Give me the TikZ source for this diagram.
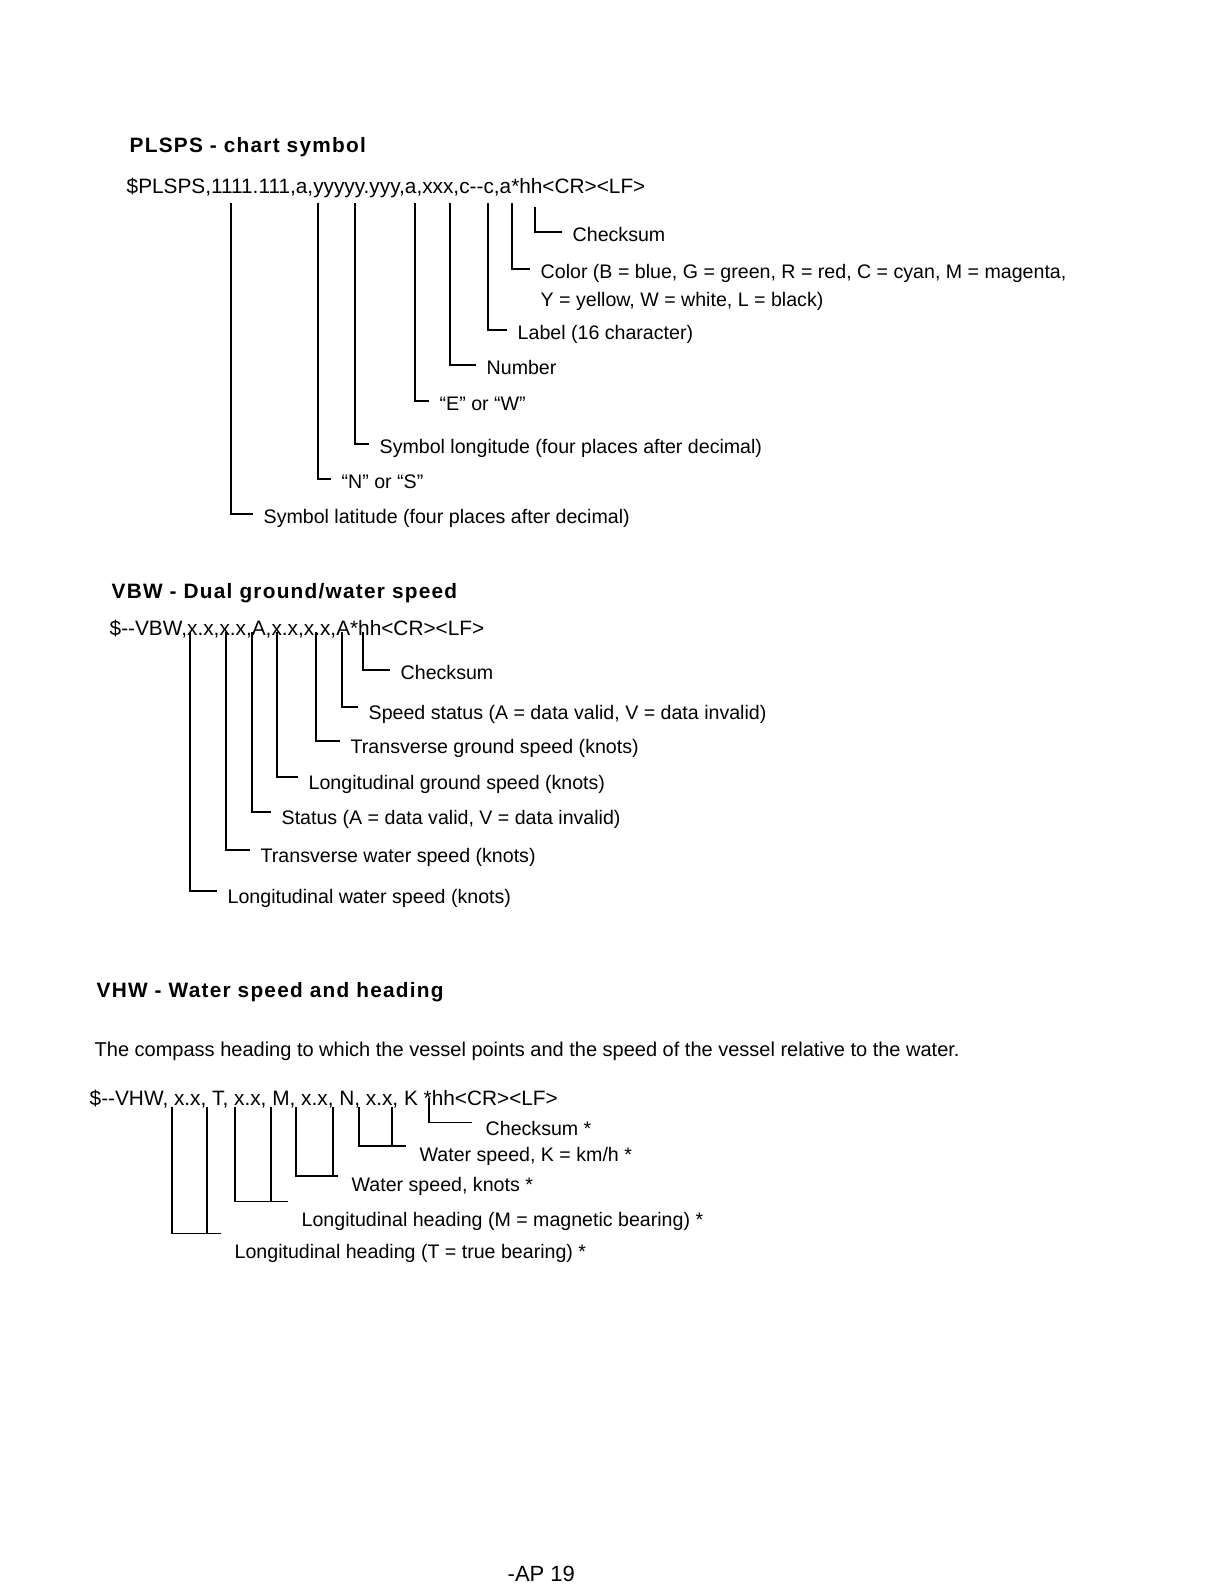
\documentclass[tikz,border=0pt]{standalone}
\usepackage{fontspec}
\setmainfont{Liberation Sans}
\newfontfamily\headfont{Liberation Sans}[LetterSpace=6]
\usetikzlibrary{positioning}
\newcommand\twodash{\mbox{-}\mbox{-}}

\begin{document}
\begin{tikzpicture}[x=0.5pt,y=-0.5pt,line width=0.7pt,
  every node/.style={font=\fontsize{9.8}{12}\selectfont},
  head/.style={anchor=base west,inner sep=0pt,font=\headfont\bfseries\fontsize{10.4}{12}\selectfont},
  sent/.style={anchor=base west,inner sep=0pt,font=\fontsize{10.4}{12}\selectfont},
  lbl/.style={anchor=west,inner xsep=5pt,inner ysep=0pt,text height=9.2pt,text depth=0pt},
  vlbl/.style={lbl,text height=12.2pt},
  hlbl/.style={anchor=base west,inner xsep=6.5pt,inner ysep=0pt,text height=7.2pt,text depth=0pt}]
\useasboundingbox[fill=white] (0,0) rectangle (1224,1584);

\node[head] (tplsps) at (129,153) {PLSPS - chart symbol};
\node[sent] (splsps) at (126,193) {\$PLSPS,1111.111,a,yyyyy.yyy,a,xxx,c\twodash c,a*hh<CR><LF>};
\coordinate (p1) at (231,203);
\coordinate (p2) at (318,203);
\coordinate (p3) at (355,203);
\coordinate (p4) at (415,203);
\coordinate (p5) at (450,203);
\coordinate (p6) at (488,203);
\coordinate (p7) at (512,203);
\coordinate (p8) at (535,207);
\node[lbl] (lat) at (253,514) {Symbol latitude (four places after decimal)};
\node[lbl] (ns) at (331,479) {“N” or “S”};
\node[lbl] (lon) at (369,444) {Symbol longitude (four places after decimal)};
\node[lbl] (ew) at (429,401) {“E” or “W”};
\node[lbl] (num) at (476,365) {Number};
\node[lbl] (lab) at (507,330) {Label (16 character)};
\node[lbl] (col) at (530,269) {Color (B = blue, G = green, R = red, C = cyan, M = magenta,};
\node[sent,font=\fontsize{9.8}{12}\selectfont] (col2) at ([xshift=5pt,yshift=-14.1pt]col.base west) {Y = yellow, W = white, L = black)};
\node[lbl] (chk) at (562,232) {Checksum};
\draw (p1) |- (lat.west);
\draw (p2) |- (ns.west);
\draw (p3) |- (lon.west);
\draw (p4) |- (ew.west);
\draw (p5) |- (num.west);
\draw (p6) |- (lab.west);
\draw (p7) |- (col.west);
\draw (p8) |- (chk.west);

\node[head] (tvbw) at (111,598) {VBW - Dual ground/water speed};
\node[sent] (svbw) at (109,635) {\$\twodash VBW,x.x,x.x,A,x.x,x.x,A*hh<CR><LF>};
\coordinate (b1) at (190,632);
\coordinate (b2) at (226,632);
\coordinate (b3) at (252,632);
\coordinate (b4) at (277,632);
\coordinate (b5) at (316,632);
\coordinate (b6) at (342,632);
\coordinate (b7) at (363,632);
\node[vlbl] (lws) at (217,891) {Longitudinal water speed (knots)};
\node[vlbl] (tws) at (250,850) {Transverse water speed (knots)};
\node[vlbl] (sts) at (271,812) {Status (A = data valid, V = data invalid)};
\node[vlbl] (lgs) at (298,777) {Longitudinal ground speed (knots)};
\node[vlbl] (tgs) at (340,741) {Transverse ground speed (knots)};
\node[vlbl] (sps) at (358,707) {Speed status (A = data valid, V = data invalid)};
\node[lbl] (vchk) at (390,670) {Checksum};
\draw (b1) |- (lws.west);
\draw (b2) |- (tws.west);
\draw (b3) |- (sts.west);
\draw (b4) |- (lgs.west);
\draw (b5) |- (tgs.west);
\draw (b6) |- (sps.west);
\draw (b7) |- (vchk.west);

\node[head] (tvhw) at (96,997) {VHW - Water speed and heading};
\node[sent,font=\fontsize{10}{12}\selectfont] (intro) at (94,1056) {The compass heading to which the vessel points and the speed of the vessel relative to the water.};
\node[sent] (svhw) at (89,1105) {\$\twodash VHW, x.x, T, x.x, M, x.x, N, x.x, K *hh<CR><LF>};
\coordinate (h1) at (172,1107);
\coordinate (h2) at (207,1107);
\coordinate (h3) at (235,1107);
\coordinate (h4) at (271,1107);
\coordinate (h5) at (296,1107);
\coordinate (h6) at (333,1107);
\coordinate (h7) at (359,1107);
\coordinate (h8) at (392,1107);
\coordinate (h9) at (429,1098);
\node[hlbl] (hdt) at (221,1258) {Longitudinal heading (T = true bearing) *};
\node[hlbl] (hdm) at (288,1226) {Longitudinal heading (M = magnetic bearing) *};
\node[hlbl] (wsn) at (338,1191) {Water speed, knots *};
\node[hlbl] (wsk) at (406,1161) {Water speed, K = km/h *};
\node[hlbl] (hchk) at (472,1135) {Checksum *};
\draw (h1) |- ([yshift=4.8pt]hdt.north west);
\draw (h2) |- ([yshift=4.8pt]hdt.north west);
\draw (h3) |- ([yshift=4.8pt]hdm.north west);
\draw (h4) |- ([yshift=4.8pt]hdm.north west);
\draw (h5) |- (wsn.north west);
\draw (h6) |- (wsn.north west);
\draw (h7) |- (wsk.north west);
\draw (h8) |- (wsk.north west);
\draw (h9) |- ([yshift=-1.2pt]hchk.north west);

\node[sent,font=\fontsize{11}{13}\selectfont] (page) at (507,1581) {-AP 19};
\end{tikzpicture}
\end{document}
